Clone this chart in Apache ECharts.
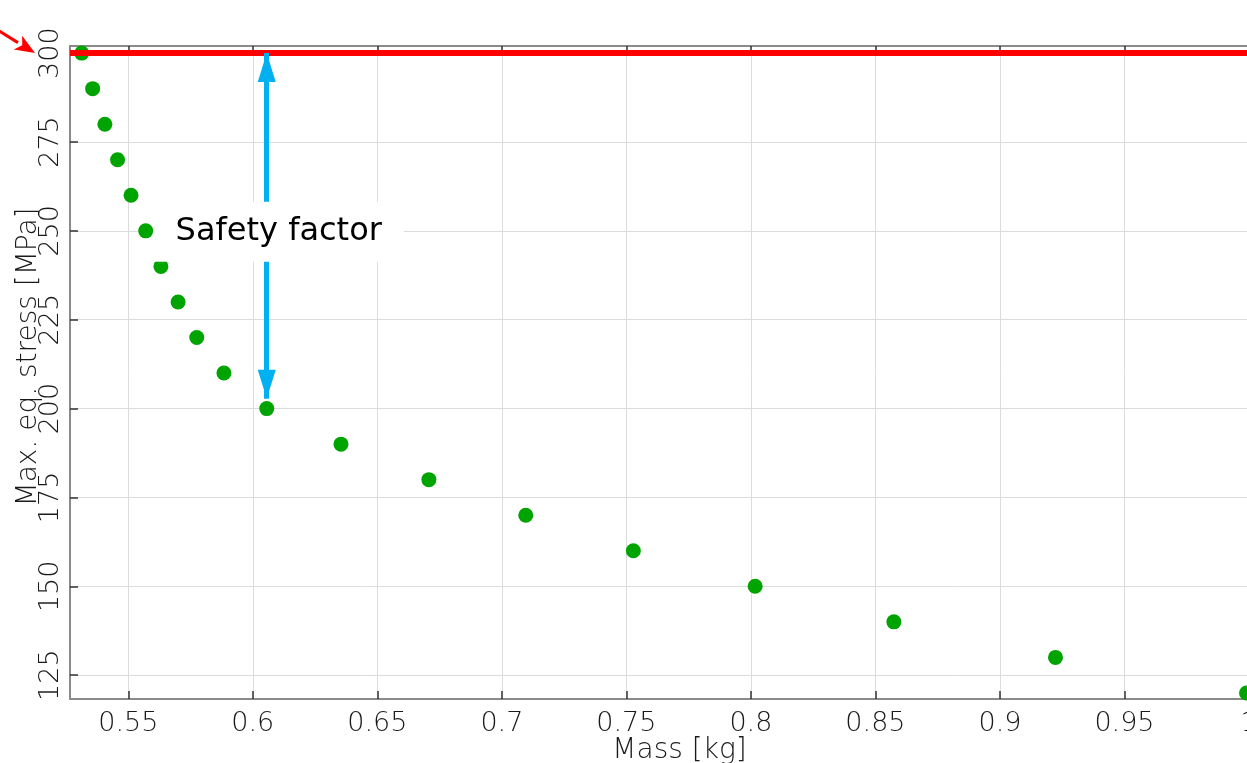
<!DOCTYPE html>
<html>
<head>
<meta charset="utf-8">
<script src="https://cdn.jsdelivr.net/npm/echarts@6/dist/echarts.min.js"></script>
<style>
  html, body { margin: 0; padding: 0; background: #ffffff; }
  #chart { width: 1247px; height: 763px; }
</style>
</head>
<body>
<div id="chart"></div>
<script>
// ---- data ----
const MASS   = [0.5313, 0.5357, 0.5406, 0.5457, 0.5511, 0.5570, 0.5631, 0.5700, 0.5775, 0.5884,
                0.6056, 0.6354, 0.6707, 0.7096, 0.7528, 0.8017, 0.8574, 0.9223, 0.9990];
const STRESS = [300, 290, 280, 270, 260, 250, 240, 230, 220, 210,
                200, 190, 180, 170, 160, 150, 140, 130, 120];
const X_TICKS = [0.55, 0.6, 0.65, 0.7, 0.75, 0.8, 0.85, 0.9, 0.95, 1];
const Y_TICKS = [125, 150, 175, 200, 225, 250, 275, 300];
const X_RANGE = [0.5266, 1.0];
const Y_RANGE = [118.3, 302];
const LIMIT = 300;                 // stress limit (red line)
const SF_X = 0.6056;               // safety-factor arrow position (mass)
const SF_TOP = 300, SF_BOTTOM = 202.8;
const SF_LABEL = 'Safety factor';
const X_NAME = 'Mass [kg]';
const Y_NAME = 'Max. eq. stress [MPa]';

// ---- chart ----
const FONT = 'DejaVu Sans';
const chart = echarts.init(document.getElementById('chart'), null, { renderer: 'canvas' });
const axisLineStyle = { lineStyle: { color: '#8a8a8a', width: 2 } };
const tickStyle = { show: true, inside: true, length: 8, lineStyle: { color: '#333', width: 1.5 } };
const labelStyle = { color: '#1a1a1a', fontFamily: FONT, fontSize: 27, fontWeight: 200 };
const nameStyle = { color: '#1a1a1a', fontFamily: FONT, fontSize: 28, fontWeight: 200 };

const option = {
  animation: false,
  backgroundColor: '#ffffff',
  grid: { left: 70, top: 46, right: -2, bottom: 64, containLabel: false, outerBoundsMode: 'none' },
  xAxis: [{
    type: 'value', min: X_RANGE[0], max: X_RANGE[1], position: 'bottom',
    axisLine: Object.assign({ show: true }, axisLineStyle),
    axisTick: Object.assign({ customValues: X_TICKS }, tickStyle),
    axisLabel: Object.assign({ customValues: X_TICKS, margin: 11 }, labelStyle),
    splitLine: { show: true, lineStyle: { color: '#dcdcdc', width: 1 } },
    name: X_NAME, nameLocation: 'middle', nameGap: 38, nameMoveOverlap: false,
    nameTextStyle: Object.assign({ padding: [0, 0, 0, 40] }, nameStyle)
  }, {
    type: 'value', min: X_RANGE[0], max: X_RANGE[1], position: 'top',
    axisLine: Object.assign({ show: true }, axisLineStyle),
    axisTick: Object.assign({ customValues: X_TICKS }, tickStyle),
    axisLabel: { show: false },
    splitLine: { show: false }
  }],
  yAxis: [{
    type: 'value', min: Y_RANGE[0], max: Y_RANGE[1],
    axisLine: Object.assign({ show: true }, axisLineStyle),
    axisTick: Object.assign({ customValues: Y_TICKS }, tickStyle),
    axisLabel: Object.assign({ customValues: Y_TICKS, rotate: 90, margin: 6 }, labelStyle),
    splitLine: { show: true, lineStyle: { color: '#dcdcdc', width: 1 } },
    name: Y_NAME, nameLocation: 'middle', nameRotate: 90, nameGap: 27, nameMoveOverlap: false,
    nameTextStyle: Object.assign({ padding: [0, 0, 0, 31] }, nameStyle)
  }],
  series: [{
    type: 'scatter', name: 'designs',
    data: MASS.map((m, i) => [m, STRESS[i]]),
    symbol: 'circle', symbolSize: 15,
    itemStyle: { color: '#00a400', opacity: 1 },
    z: 2
  }, {
    type: 'line', name: 'limit', data: [],
    markLine: {
      silent: true, symbol: 'none', animation: false,
      lineStyle: { color: '#ff0000', width: 6, type: 'solid', opacity: 1 },
      label: { show: false },
      data: [{ yAxis: LIMIT }]
    }
  }, {
    type: 'line', name: 'safety', data: [],
    markLine: {
      silent: true, animation: false,
      symbol: ['triangle', 'triangle'], symbolSize: [18, 29],
      symbolOffset: [[0, 14.5], [0, 14.5]],
      lineStyle: { color: '#00b0f0', width: 5, type: 'solid', opacity: 1 },
      itemStyle: { color: '#00b0f0' },
      label: { show: false },
      data: [[{ coord: [SF_X, SF_TOP] }, { coord: [SF_X, SF_BOTTOM] }]]
    },
    markPoint: {
      silent: true, animation: false, z: 10,
      symbol: 'rect', symbolSize: 1, itemStyle: { color: 'rgba(0,0,0,0)' },
      label: {
        show: true, position: 'inside', formatter: SF_LABEL, offset: [12, 6],
        color: '#000', fontFamily: FONT, fontSize: 32,
        backgroundColor: '#ffffff', padding: [14, 22, 14, 22]
      },
      data: [{ coord: [SF_X, (SF_TOP + SF_BOTTOM) / 2] }]
    }
  }]
};
chart.setOption(option);

// red pointer arrow toward the limit label (annotation)
const p = chart.convertToPixel({ gridIndex: 0 }, [X_RANGE[0], LIMIT]);
const tip = [p[0] - 35, p[1]];
const dx = 35, dy = 21.5, len = Math.sqrt(dx * dx + dy * dy);
const ux = dx / len, uy = dy / len;
const tail = [tip[0] - ux * 50, tip[1] - uy * 50];
const base = [tip[0] - ux * 20, tip[1] - uy * 20];
const nx = -uy, ny = ux;
chart.setOption({
  graphic: [{
    type: 'line', silent: true, z: 100,
    shape: { x1: tail[0], y1: tail[1], x2: base[0], y2: base[1] },
    style: { stroke: '#ff0000', lineWidth: 3 }
  }, {
    type: 'polygon', silent: true, z: 100,
    shape: { points: [tip, [base[0] + nx * 8, base[1] + ny * 8], [base[0] + ux * 5, base[1] + uy * 5], [base[0] - nx * 8, base[1] - ny * 8]] },
    style: { fill: '#ff0000' }
  }]
});
</script>
</body>
</html>
